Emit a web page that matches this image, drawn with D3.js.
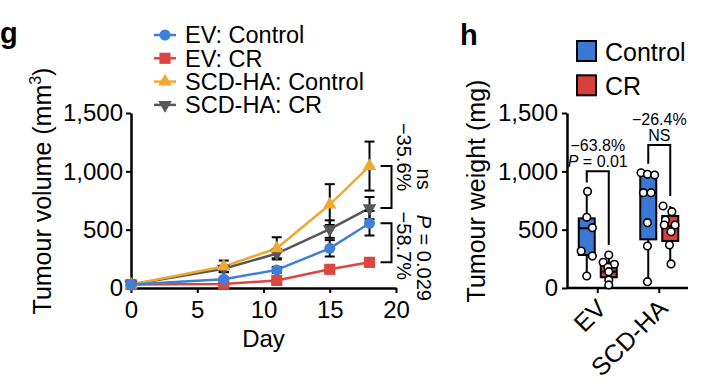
<!DOCTYPE html>
<html>
<head>
<meta charset="utf-8">
<script src="https://cdn.jsdelivr.net/npm/d3@7"></script>
<style>
  body { margin: 0; background: #fff; }
  svg { display: block; font-family: "Liberation Sans", Arial, Helvetica, sans-serif; }
</style>
</head>
<body>
<svg id="chart" width="720" height="387"></svg>
<script>
// ---- panel g: tumour volume over time ----
const days = [0, 7, 11, 15, 18];
const volumeTicks = [0, 500, 1000, 1500];
const dayTicks = [0, 5, 10, 15, 20];
const seriesNames = ['EV: Control', 'EV: CR', 'SCD-HA: Control', 'SCD-HA: CR'];
const evControl = [30, 75, 155, 340, 555];
const evCR = [30, 35, 65, 160, 220];
const scdControl = [30, 185, 340, 715, 1045];
const scdCR = [30, 165, 295, 505, 685];
const evControlErr = [5, 15, 25, 70, 105];
const evCRErr = [5, 8, 12, 20, 25];
const scdControlErr = [5, 50, 95, 175, 210];
const scdCRErr = [5, 25, 40, 75, 95];
const volumeNotes = ['−35.6%', '−58.7%'];
const volumeStats = ['ns', 'P = 0.029'];

// ---- panel h: tumour weight ----
const groups = ['EV', 'SCD-HA'];
const conditions = ['Control', 'CR'];
const weightTicks = [0, 500, 1000, 1500];
// [min, q1, median, q3, max]
const boxEvControl = [103, 283, 512, 597, 828];
const boxEvCR = [26, 92, 140, 217, 283];
const boxScdControl = [54, 417, 817, 960, 988];
const boxScdCR = [206, 403, 531, 617, 703];
const ptsEvControl = [828, 606, 517, 317, 274, 103];
const ptsEvCR = [283, 220, 203, 177, 140, 69, 26];
const ptsScdControl = [988, 974, 968, 817, 817, 560, 360, 54];
const ptsScdCR = [703, 654, 583, 540, 540, 483, 369, 206];
// horizontal spread of dots, as fraction of half box width
const jitEvControl = [0.1, 0, 0.7, -0.7, 0.7, 0];
const jitEvCR = [0, -0.7, 0.7, -0.1, 0, 0, 0];
const jitScdControl = [-0.9, -0.1, 0.8, -0.6, 0.35, -0.1, -0.1, -0.1];
const jitScdCR = [-0.9, 0.2, -0.6, 0.6, -0.75, 0.1, -0.1, 0.1];
const weightPct = ['−63.8%', '−26.4%'];
const weightP = ['P = 0.01', 'NS'];
const bracketLevel = [1000, 1225];

const BLUE = '#3d7fd9', RED = '#db4640', ORANGE = '#efa92f', GRAY = '#575757';
const BOXBLUE = '#3b78d3', BOXRED = '#d63f3b';

const svg = d3.select('#chart');

// ================= panel g =================
const x = d3.scaleLinear().domain([0, 20]).range([131, 396]);
const y = d3.scaleLinear().domain([0, 1500]).range([288, 113]);

const series = [
  { name: seriesNames[1], v: evCR, e: evCRErr, color: RED, sym: d3.symbolSquare, size: 125, rot: 0 },
  { name: seriesNames[3], v: scdCR, e: scdCRErr, color: GRAY, sym: d3.symbolTriangle, size: 80, rot: 180 },
  { name: seriesNames[2], v: scdControl, e: scdControlErr, color: ORANGE, sym: d3.symbolTriangle, size: 80, rot: 0 },
  { name: seriesNames[0], v: evControl, e: evControlErr, color: BLUE, sym: d3.symbolCircle, size: 95, rot: 0 }
];

const gAxisY = svg.append('g')
  .attr('transform', `translate(${x(0)},0)`)
  .call(d3.axisLeft(y).tickValues(volumeTicks).tickFormat(d3.format(',')).tickSize(5).tickSizeOuter(0).tickPadding(3));
const gAxisX = svg.append('g')
  .attr('transform', `translate(0,${y(0)})`)
  .call(d3.axisBottom(x).tickValues(dayTicks).tickSize(5).tickSizeOuter(0).tickPadding(8));
[gAxisY, gAxisX].forEach(g => {
  g.selectAll('path, line').attr('stroke', '#000').attr('stroke-width', 2);
  g.selectAll('text').style('font-size', '24px').attr('fill', '#000');
  g.select('.domain').attr('stroke-width', 2.5);
});

const line = d3.line().x((d, i) => x(days[i])).y(d => y(d));
series.forEach(s => {
  svg.append('path').datum(s.v)
    .attr('fill', 'none').attr('stroke', s.color).attr('stroke-width', 2.5)
    .attr('d', line);
});
// error bars
series.forEach(s => {
  const eb = svg.append('g').attr('stroke', '#000').attr('stroke-width', 2);
  s.v.forEach((v, i) => {
    const cx = x(days[i]);
    eb.append('line').attr('x1', cx).attr('x2', cx).attr('y1', y(v - s.e[i])).attr('y2', y(v + s.e[i]));
    [v - s.e[i], v + s.e[i]].forEach(w => {
      eb.append('line').attr('x1', cx - 5).attr('x2', cx + 5).attr('y1', y(w)).attr('y2', y(w));
    });
  });
});
series.forEach(s => {
  svg.append('g').selectAll('path').data(s.v).join('path')
    .attr('transform', (d, i) => `translate(${x(days[i])},${y(d)}) rotate(${s.rot})`)
    .attr('d', d3.symbol().type(s.sym).size(s.size))
    .attr('fill', s.color);
});

// brackets at day 18
const last = days.length - 1;
const bx0 = x(days[last]) + 11, bx1 = x(days[last]) + 22;
const pairs = [[scdControl[last], scdCR[last]], [evControl[last], evCR[last]]];
pairs.forEach((p, k) => {
  const y0 = y(p[0]), y1 = y(p[1]);
  svg.append('path')
    .attr('d', `M${bx0},${y0}H${bx1}V${y1}H${bx0}`)
    .attr('fill', 'none').attr('stroke', '#000').attr('stroke-width', 2);
  const cy = k === 0 ? (y0 + y1) / 2 - 30 : (y0 + y1) / 2 + 3;
  svg.append('text')
    .attr('transform', `translate(${bx1 + 5},${cy}) rotate(90)`)
    .attr('text-anchor', 'middle').style('font-size', '20px')
    .text(volumeNotes[k]);
  const st = svg.append('text')
    .attr('transform', `translate(${bx1 + 25},${k === 0 ? (y0 + y1) / 2 - 8 : (y0 + y1) / 2 + 15}) rotate(90)`)
    .attr('text-anchor', 'middle').style('font-size', '20px');
  if (volumeStats[k].startsWith('P')) {
    st.append('tspan').style('font-style', 'italic').text('P');
    st.append('tspan').text(volumeStats[k].slice(1));
  } else st.text(volumeStats[k]);
});

// legend
const legend = svg.append('g');
[series[3], series[0], series[2], series[1]].forEach((s, i) => {
  const ly = 35 + i * 23.3;
  legend.append('line').attr('x1', 154).attr('x2', 176).attr('y1', ly).attr('y2', ly)
    .attr('stroke', s.color).attr('stroke-width', 2.5);
  legend.append('path')
    .attr('transform', `translate(165,${ly}) rotate(${s.rot})`)
    .attr('d', d3.symbol().type(s.sym).size(s.size)).attr('fill', s.color);
  legend.append('text').attr('x', 185).attr('y', ly + 8.3)
    .style('font-size', '23.5px').text(s.name);
});

// axis titles
svg.append('text').attr('x', x(10)).attr('y', 347).attr('text-anchor', 'middle')
  .style('font-size', '24px').text('Day');
const yt = svg.append('text')
  .attr('transform', 'translate(51,191) rotate(-90)')
  .attr('text-anchor', 'middle').style('font-size', '25px');
yt.append('tspan').text('Tumour volume (mm');
yt.append('tspan').attr('dy', -10).style('font-size', '16px').text('3');
yt.append('tspan').attr('dy', 10).text(')');

svg.append('text').attr('x', 0).attr('y', 43).style('font-size', '29px').style('font-weight', 'bold').text('g');

// ================= panel h =================
const yw = d3.scaleLinear().domain([0, 1500]).range([288, 113]);
const xg = d3.scaleBand().domain(groups).range([567, 690]).padding(0);
const xc = d3.scalePoint().domain(conditions).range([-11, 11]);
const boxW = 16;

const gwY = svg.append('g')
  .attr('transform', 'translate(567,0)')
  .call(d3.axisLeft(yw).tickValues(weightTicks).tickFormat(d3.format(',')).tickSize(5).tickSizeOuter(0).tickPadding(4));
const gwX = svg.append('g')
  .attr('transform', `translate(0,${yw(0)})`)
  .call(d3.axisBottom(xg).tickSize(5).tickSizeOuter(0));
gwX.select('.domain').attr('d', 'M567,0H688');
gwX.selectAll('text')
  .attr('x', 0).attr('y', 0).attr('dy', 0)
  .attr('transform', 'translate(10,22) rotate(-45)')
  .style('text-anchor', 'end');
[gwY, gwX].forEach(g => {
  g.selectAll('path, line').attr('stroke', '#000').attr('stroke-width', 2);
  g.selectAll('text').style('font-size', '24px').attr('fill', '#000');
  g.select('.domain').attr('stroke-width', 2.5);
});
gwX.selectAll('text').style('font-size', '25px');

const boxes = [
  { g: 'EV', c: 'Control', b: boxEvControl, p: ptsEvControl, j: jitEvControl, fill: BOXBLUE },
  { g: 'EV', c: 'CR', b: boxEvCR, p: ptsEvCR, j: jitEvCR, fill: BOXRED },
  { g: 'SCD-HA', c: 'Control', b: boxScdControl, p: ptsScdControl, j: jitScdControl, fill: BOXBLUE },
  { g: 'SCD-HA', c: 'CR', b: boxScdCR, p: ptsScdCR, j: jitScdCR, fill: BOXRED }
];
const cxOf = d => xg(d.g) + xg.bandwidth() / 2 + xc(d.c);

boxes.forEach(d => {
  const cx = cxOf(d);
  const g = svg.append('g');
  g.append('line').attr('x1', cx).attr('x2', cx).attr('y1', yw(d.b[0])).attr('y2', yw(d.b[4]))
    .attr('stroke', '#000').attr('stroke-width', 2);
  g.append('rect').attr('x', cx - boxW / 2).attr('width', boxW)
    .attr('y', yw(d.b[3])).attr('height', yw(d.b[1]) - yw(d.b[3]))
    .attr('fill', d.fill).attr('stroke', '#000').attr('stroke-width', 2);
  g.append('line').attr('x1', cx - boxW / 2).attr('x2', cx + boxW / 2)
    .attr('y1', yw(d.b[2])).attr('y2', yw(d.b[2]))
    .attr('stroke', '#000').attr('stroke-width', 2);
  g.selectAll('circle').data(d.p).join('circle')
    .attr('cx', (v, i) => cx + d.j[i] * boxW / 2)
    .attr('cy', v => yw(v))
    .attr('r', 3.8)
    .attr('fill', '#fff').attr('stroke', '#000').attr('stroke-width', 1.6);
});

// significance brackets
groups.forEach((grp, k) => {
  const a = boxes.find(b => b.g === grp && b.c === 'Control');
  const b = boxes.find(b2 => b2.g === grp && b2.c === 'CR');
  const xa = cxOf(a), xb = cxOf(b);
  const top = yw(bracketLevel[k]);
  svg.append('path')
    .attr('d', `M${xa},${yw(d3.max(a.p)) - 9}V${top}H${xb}V${yw(d3.max(b.p)) - 10}`)
    .attr('fill', 'none').attr('stroke', '#000').attr('stroke-width', 2);
  const mid = (xa + xb) / 2;
  svg.append('text').attr('x', mid).attr('y', top - 20).attr('text-anchor', 'middle')
    .style('font-size', '16px').text(weightPct[k]);
  const t = svg.append('text').attr('x', mid).attr('y', top - 4).attr('text-anchor', 'middle')
    .style('font-size', '16px');
  if (weightP[k].startsWith('P')) {
    t.append('tspan').style('font-style', 'italic').text('P');
    t.append('tspan').text(weightP[k].slice(1));
  } else t.text(weightP[k]);
});

// legend
conditions.forEach((c, i) => {
  const ly = 41 + i * 34.3;
  svg.append('rect').attr('x', 577).attr('y', ly).attr('width', 19).attr('height', 20)
    .attr('fill', i === 0 ? BOXBLUE : BOXRED).attr('stroke', '#000').attr('stroke-width', 2);
  svg.append('text').attr('x', 605).attr('y', ly + 20).style('font-size', '25px').text(c);
});

svg.append('text')
  .attr('transform', 'translate(485,191) rotate(-90)')
  .attr('text-anchor', 'middle').style('font-size', '25px')
  .text('Tumour weight (mg)');

svg.append('text').attr('x', 460).attr('y', 45).style('font-size', '29px').style('font-weight', 'bold').text('h');
</script>
</body>
</html>
